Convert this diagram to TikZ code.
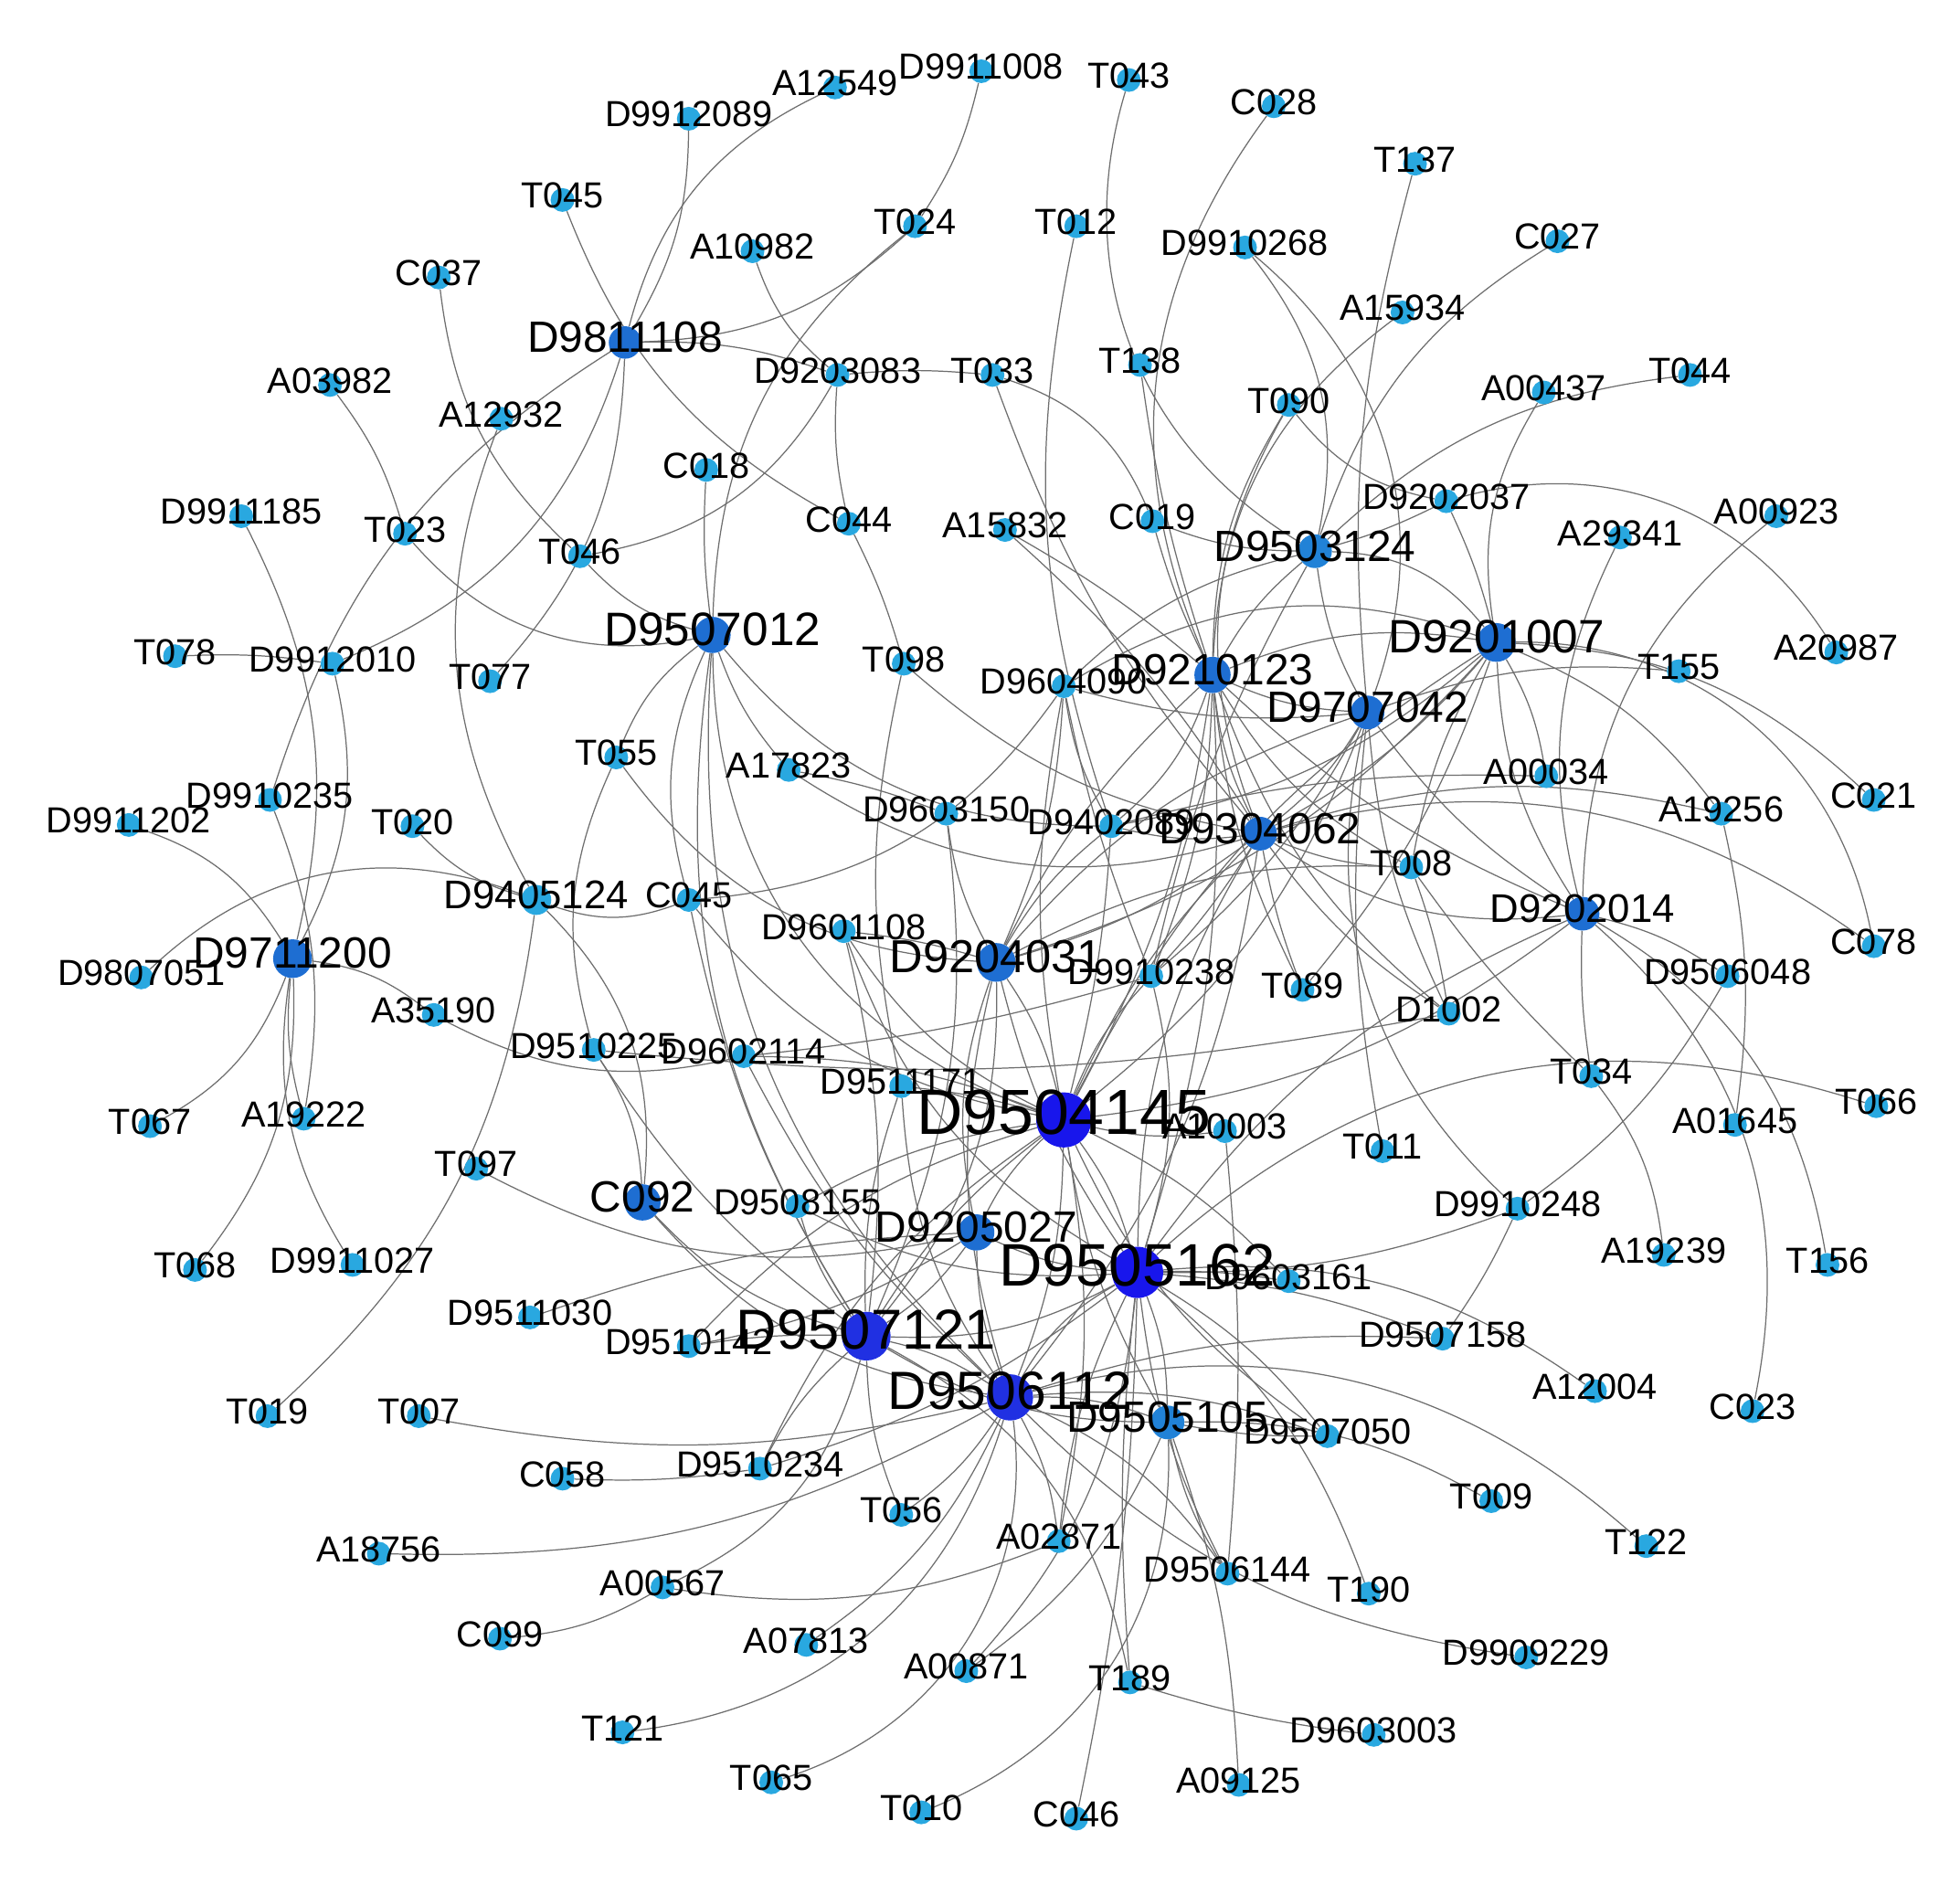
\documentclass[tikz,border=0pt]{standalone}
\usepackage{fontspec}
\setmainfont{Liberation Sans}
\pgfdeclarelayer{edgelayer}
\pgfsetlayers{edgelayer,main}
\definecolor{nA}{RGB}{41,168,224}
\definecolor{nB}{RGB}{33,130,215}
\definecolor{nC}{RGB}{30,110,210}
\definecolor{nD}{RGB}{32,48,226}
\definecolor{nE}{RGB}{24,22,236}
\definecolor{eg}{RGB}{110,110,110}
\tikzset{
  vtx/.style={circle,inner sep=0pt,draw=none},
  lbl/.style={inner sep=0pt,text=black},
  edge/.style={draw=eg,line width=0.9pt},
}
\def\nodelist{A12549/668/70/9.5/nA/29, D9911008/785/57/9.5/nA/29, T043/903/64/9.5/nA/29, C028/1019/85/9.5/nA/29,
D9912089/551/95/9.5/nA/29, T137/1132/131/9.5/nA/29, T045/450/160/9.5/nA/29, T024/732/181/9.5/nA/29,
T012/861/181/9.5/nA/29, D9910268/996/198/9.5/nA/29, C027/1246/193/9.5/nA/29, A10982/602/201/9.5/nA/29,
C037/351/222/9.5/nA/29, A15934/1122/250/9.5/nA/29, A03982/264/308/9.5/nA/29, D9203083/670/300/9.5/nA/29,
T033/794/300/9.5/nA/29, T138/912/292/9.5/nA/29, T044/1352/300/9.5/nA/29, A00437/1235/314/9.5/nA/29,
A12932/401/335/9.5/nA/29, T090/1031/324/9.5/nA/29, C018/565/376/9.5/nA/29, D9911185/193/413/9.5/nA/29,
T023/324/427/9.5/nA/29, T046/464/445/9.5/nA/29, C044/679/419/9.5/nA/29, A15832/804/424/9.5/nA/29,
C019/922/417/9.5/nA/29, D9202037/1157/401/9.5/nA/29, A29341/1296/430/9.5/nA/29, A00923/1421/413/9.5/nA/29,
T078/140/525/9.5/nA/29, D9912010/266/531/9.5/nA/29, T077/392/545/9.5/nA/29, T098/723/531/9.5/nA/29,
D9604090/851/549/9.5/nA/29, A20987/1469/522/9.5/nA/29, T155/1343/537/9.5/nA/29, T055/493/606/9.5/nA/29,
A17823/631/616/9.5/nA/29, A00034/1237/621/9.5/nA/29, D9910235/216/640/9.5/nA/29, D9911202/103/660/9.5/nA/29,
T020/330/661/9.5/nA/29, D9603150/757/651/9.5/nA/29, D9402089/889/661/9.5/nA/29, A19256/1377/651/9.5/nA/29,
C021/1499/640/9.5/nA/29, T008/1129/694/9.5/nA/29, D9405124/429/720/12/nA/32, C045/551/720/9.5/nA/29,
C078/1499/757/9.5/nA/29, D9601108/675/745/9.5/nA/29, D9807051/113/782/9.5/nA/29, D9910238/921/781/9.5/nA/29,
T089/1042/792/9.5/nA/29, D1002/1159/811/9.5/nA/29, D9506048/1382/781/9.5/nA/29, A35190/347/812/9.5/nA/29,
D9510225/475/840/9.5/nA/29, D9602114/595/845/9.5/nA/29, D9511171/721/869/9.5/nA/29, A10003/980/905/9.5/nA/29,
T034/1273/861/9.5/nA/29, T066/1501/885/9.5/nA/29, T011/1106/921/9.5/nA/29, A01645/1388/900/9.5/nA/29,
T067/120/901/9.5/nA/29, A19222/243/895/9.5/nA/29, T097/381/935/9.5/nA/29, D9508155/638/965/9.5/nA/29,
D9910248/1214/967/9.5/nA/29, D9603161/1031/1025/9.5/nA/29, A19239/1331/1004/9.5/nA/29, T156/1462/1012/9.5/nA/29,
T068/156/1016/9.5/nA/29, D9911027/282/1012/9.5/nA/29, D9511030/424/1054/9.5/nA/29, D9510142/551/1077/9.5/nA/29,
D9507158/1154/1071/9.5/nA/29, A12004/1276/1113/9.5/nA/29, C023/1402/1129/9.5/nA/29, D9507050/1062/1149/9.5/nA/29,
T019/214/1133/9.5/nA/29, T007/335/1133/9.5/nA/29, C058/450/1183/9.5/nA/29, D9510234/608/1175/9.5/nA/29,
T009/1193/1201/9.5/nA/29, T056/721/1212/9.5/nA/29, A02871/847/1233/9.5/nA/29, T122/1317/1237/9.5/nA/29,
A18756/303/1243/9.5/nA/29, D9506144/982/1259/9.5/nA/29, T190/1095/1275/9.5/nA/29, A00567/530/1270/9.5/nA/29,
C099/400/1311/9.5/nA/29, A07813/645/1316/9.5/nA/29, D9909229/1221/1326/9.5/nA/29, A00871/773/1337/9.5/nA/29,
T189/904/1346/9.5/nA/29, T121/498/1386/9.5/nA/29, D9603003/1099/1388/9.5/nA/29, T065/617/1426/9.5/nA/29,
A09125/991/1428/9.5/nA/29, T010/737/1450/9.5/nA/29, C046/861/1455/9.5/nA/29,
D9811108/500/274/13/nC/35, D9507012/570/508/14.5/nC/37.5, D9503124/1052/441/13.5/nB/35, D9210123/970/540/14.5/nC/35,
D9201007/1197/514/15.5/nC/37.5, D9707042/1094/570/13.5/nC/35, D9304062/1008/667/13.5/nC/35, D9202014/1266/731/13.5/nC/32,
D9711200/234/767/15.5/nC/35, D9204031/797/770/15.5/nC/37, C092/514/962/14.5/nC/35, D9205027/781/986/14.5/nC/35,
D9505105/934/1138/13.5/nB/35, D9504145/851/896/22/nE/51, D9505162/910/1018/20.5/nE/48, D9507121/693/1069/19.5/nD/45,
D9506112/808/1118/18.5/nD/43}
\def\edgelist{D9912089/D9811108/15, A12549/D9811108/-25, D9911008/T024/10, T024/D9811108/20, T024/D9507012/-25,
T045/C044/-20, C037/T046/-20, T046/D9507012/-15, T046/D9203083/-25, A03982/T023/10, T023/D9507012/-30,
D9811108/D9910235/-20, D9811108/D9912010/25, D9811108/T077/20, D9811108/D9203083/10, A12932/D9405124/-25,
D9911185/D9711200/20, D9912010/D9711200/20, T078/D9912010/5, A10982/D9203083/-15, D9203083/C044/-8,
D9203083/T033/5, T033/C019/25, T033/D9304062/-10, A15832/D9304062/8, A15832/D9210123/5, C018/D9507012/-5,
C044/T098/5, T098/D9304062/-15, T098/D9511171/-12, T055/D9507012/15, T055/D9510225/-20, T055/D9204031/-25,
D9507012/C045/-20, D9507012/D9504145/-35, D9507012/D9507121/-20, D9507012/D9506112/-25, D9507012/D9402089/-25,
D9507012/A17823/-10, A17823/D9603150/5, A17823/D9304062/-25, C045/D9405124/20, C045/D9604090/-25,
C045/D9504145/-20, C045/D9507121/-10, D9405124/D9807051/-32, D9405124/T019/20, D9405124/C092/25,
T020/D9405124/-15, A35190/D9711200/-15, A35190/D9602114/-20, D9911202/D9711200/20, T067/D9711200/-20,
T068/D9711200/-20, D9911027/D9711200/20, A19222/D9711200/10, D9910235/A19222/15, D9510225/C092/15,
T097/D9205027/-20, C092/D9507121/-15, C092/D9506112/-20, D9602114/D9910238/-5, D9510225/D1002/-8,
C019/D9503124/-10, C019/D9210123/-5, D9503124/D9910238/-8, D9503124/D9210123/-10, D9503124/D9201007/25,
D9503124/D9604090/-15, D9503124/D9707042/-10, D9604090/D9201007/25, D9210123/D9201007/15, D9210123/D9304062/-10,
D9210123/D9707042/-10, D9210123/D9402089/15, D9210123/D9910238/10, D9210123/D1002/-15, D9210123/T089/-10,
D9210123/T008/-15, D9210123/D9202014/-10, D9707042/D9304062/10, D9707042/T011/-8, D9707042/D9202014/-10,
D9707042/D9604090/10, D9707042/D1002/-10, D9707042/D9910238/10, D9201007/D9304062/10, D9201007/T008/-10,
D9201007/T089/10, D9201007/D9202014/-15, D9201007/A00034/10, D9201007/D9402089/15, D9304062/D9402089/10,
D9304062/T008/-10, D9304062/D1002/-10, D9304062/T089/-5, D9304062/D9910238/5, D9304062/D9202014/-20,
C078/D9304062/-25, D9304062/A19256/15, D9402089/A00034/8, T008/D9204031/-15, D9604090/D9402089/-10,
D9604090/D9204031/10, D9604090/D9910238/-5, D9604090/D9504145/-10, T008/D1002/5,
A10003/D9504145/10, A10003/D9506144/5, T066/D9505162/-30, T034/D9202014/5, A19239/T034/-15, T008/T034/-5,
D9506048/D9202014/-10, D9506048/D9910248/12, D9202014/T156/25, D9202014/C023/30, A19256/D9201007/-15,
A19256/A01645/10, D9201007/C021/20, D9201007/C078/40, T155/D9707042/-12, A00923/D9202014/-25,
A29341/D9202014/-20, A00437/D9201007/-20, T044/D9503124/-18, D9202037/D9503124/5, D9202037/D9201007/5,
D9202037/A20987/37, T090/D9202037/-20, T090/D9210123/-15, T090/D9304062/-25, A15934/D9210123/-25,
C027/D9503124/-20, T137/D9707042/-10, D9910268/D9503124/25, D9910268/D9707042/35, T043/D9503124/-38,
C028/D9210123/-30, T138/D9210123/-5, T012/D9402089/-15,
A12004/D9505162/-20, D9507158/D9505162/-8, D9507158/D9506112/-10, D9910248/D9507158/5, D9910248/D9505162/10,
D9910248/D9707042/30, T122/D9506112/-28, T009/D9505105/-15, D9507050/D9505105/5, D9507050/D9505162/-10,
T190/D9505162/-15, D9909229/D9506112/18, D9603003/T189/5, T189/D9507121/-25, T189/D9505162/5,
A09125/D9505105/-8, C046/D9505162/-5, T010/D9505105/-35, A00871/D9505162/-18, A00871/D9505105/-15,
T065/D9506112/-40, A07813/D9506112/-15, T121/D9506112/-33, C099/A00567/-12, A00567/D9507121/-25,
A00567/A02871/-15, A18756/D9506112/-15, T007/D9506112/-12, C058/D9510234/-5, D9510234/D9507121/10,
D9510234/D9504145/15, D9510234/D9505162/-10, D9511030/D9205027/8, D9510142/D9507121/5, D9510142/D9504145/15,
D9510142/D9205027/-10, D9508155/D9504145/10, D9508155/D9507121/-10, D9508155/D9505162/-15,
D9511171/D9504145/5, D9511171/D9507121/-10, D9511171/D9506112/-15, D9601108/D9204031/5,
D9601108/D9504145/-15, D9601108/D9505162/-20, D9603150/D9204031/-10, T056/D9507121/10, T056/D9506112/-10,
A02871/D9505162/10, A02871/D9504145/-10, A02871/D9506112/-10,
D9510225/D9507121/-10, D9602114/D9506112/-10, D9602114/D9504145/10, D9603150/D9507121/15, D9601108/D9507121/10,
D9205027/D9504145/10, D9205027/D9505162/-10, D9205027/D9507121/10, D9205027/D9506112/-10, D9205027/D9204031/15,
D9204031/D9504145/10, D9204031/D9505162/-10, D9204031/D9507121/20, D9204031/D9506112/-15, D9204031/D9210123/10,
D9204031/D9304062/-10, D9204031/D9707042/15, D9204031/D9201007/-15, D9204031/D9402089/10,
D9504145/D9505162/10, D9504145/D9507121/-10, D9504145/D9506112/10, D9504145/D9505105/-10, D9504145/D9402089/-5,
D9504145/D9910238/10, D9504145/D9210123/-10, D9504145/D9304062/10, D9504145/D9707042/-15, D9504145/D9201007/15,
D9504145/D9202014/-15, D9504145/D9603161/10, D9504145/D9507050/-15, D9505162/D9507121/15, D9505162/D9506112/-15,
D9505162/D9505105/10, D9505162/D9603161/5, D9505162/D9910238/-15, D9505162/D9304062/15, D9505162/D9210123/-10,
D9505162/D9202014/15, D9505162/D9506144/-10, D9507121/D9506112/10, D9507121/D9505105/-15, D9506112/D9505105/10,
D9506112/D9506144/15, D9506112/D9507050/12, D9506112/D9304062/-15, D9505105/D9506144/-10}
\begin{document}
\begin{tikzpicture}[x=1pt,y=1pt]
\useasboundingbox (0,0) rectangle (1568,-1507);
\begin{pgfonlayer}{edgelayer}
\fill[white] (0,0) rectangle (1568,-1507);
\end{pgfonlayer}
\foreach \nn/\nx/\ny/\nr/\nc/\nf in \nodelist {
  \node[vtx,fill=\nc,minimum size={2*\nr*1pt}] (\nn) at (\nx,-\ny) {};
}
\begin{pgfonlayer}{edgelayer}
\foreach \ea/\ez/\eb in \edgelist {
  \draw[edge] (\ea) to[bend left=\eb] (\ez);
}
\end{pgfonlayer}
\foreach \nn/\nx/\ny/\nr/\nc/\nf in \nodelist {
  \node[lbl,font=\fontsize{\nf}{\nf}\selectfont] (\nn-l) at (\nx,{-\ny+0.12*\nf}) {\nn};
}
\end{tikzpicture}
\end{document}
